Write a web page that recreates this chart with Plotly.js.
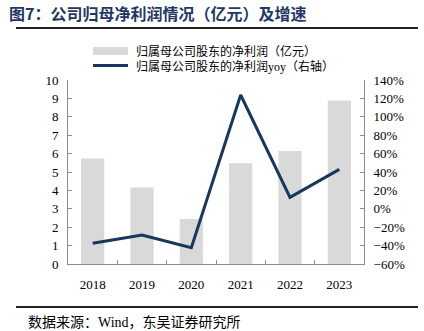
<!DOCTYPE html>
<html><head><meta charset="utf-8">
<script src="https://cdn.plot.ly/plotly-3.0.1.min.js"></script>
<style>html,body{margin:0;padding:0;background:#fff}#c{width:424px;height:331px}</style>
</head><body><div id="c"></div>
<script>
const years = ['2018','2019','2020','2021','2022','2023'];
const netProfit = [5.73, 4.16, 2.44, 5.47, 6.14, 8.89];
const yoyPct = [-37.5, -28.5, -42.3, 123.7, 12.5, 42.9];
const barName = '归属母公司股东的净利润（亿元）';
const lineName = '归属母公司股东的净利润yoy（右轴）';
const titleText = '图7：公司归母净利润情况（亿元）及增速';
const sourceText = '数据来源：Wind，东吴证券研究所';

const serif = '"Liberation Serif", "Times New Roman", "Noto Sans CJK SC", serif';
const axisCol = '#8c8c8c';
const barCol = '#D9D9D9';
const lineCol = '#17375E';

// pixel -> paper helpers (plot area: x 68..364, y 80..264)
const px = v => (v - 68) / 296;
const py = v => (264 - v) / 184;

const traces = [
  {type:'bar', x:years, y:netProfit, name:barName, marker:{color:barCol}, width:0.47, yaxis:'y', showlegend:false},
  {type:'scatter', mode:'lines', x:years, y:yoyPct, name:lineName, line:{color:lineCol, width:3}, yaxis:'y2', showlegend:false}
];

const layout = {
  width:424, height:331,
  margin:{l:68, r:60, t:80, b:67},
  paper_bgcolor:'#fff', plot_bgcolor:'#fff',
  showlegend:false,
  font:{family:serif, size:13, color:'#000'},
  title:{text:'<b>'+titleText+'</b>', xref:'container', yref:'container', x:9/424, xanchor:'left', y:1-14/331, yanchor:'middle',
    font:{family:'"Noto Sans CJK SC", sans-serif', size:16, color:'#1F3864'}},
  xaxis:{type:'category', range:[-0.5,5.5], showline:true, linecolor:axisCol, linewidth:1,
    ticks:'inside', ticklen:4, tickcolor:axisCol, tickson:'boundaries', showgrid:false, zeroline:false,
    tickfont:{family:serif, size:13}, ticklabelstandoff:8},
  yaxis:{range:[0,10], dtick:1, showline:true, linecolor:axisCol, ticks:'inside', ticklen:4, tickcolor:axisCol,
    showgrid:false, zeroline:false, tickfont:{family:serif, size:13}, ticklabelstandoff:6},
  yaxis2:{range:[-60,140], dtick:20, ticksuffix:'%', overlaying:'y', side:'right', showline:true, linecolor:axisCol,
    ticks:'inside', ticklen:4, tickcolor:axisCol, showgrid:false, zeroline:false, tickfont:{family:serif, size:13}, ticklabelstandoff:6},
  shapes:[
    {type:'line', xref:'paper', yref:'paper', x0:px(16), x1:px(418), y0:py(28), y1:py(28), line:{color:'#222', width:2}},
    {type:'line', xref:'paper', yref:'paper', x0:px(16), x1:px(418), y0:py(307), y1:py(307), line:{color:'#222', width:2}},
    // legend swatches
    {type:'rect', xref:'paper', yref:'paper', x0:px(93), x1:px(128), y0:py(55), y1:py(47), fillcolor:barCol, line:{width:0}},
    {type:'line', xref:'paper', yref:'paper', x0:px(93), x1:px(128), y0:py(65.5), y1:py(65.5), line:{color:lineCol, width:3}}
  ],
  annotations:[
    {text:barName, xref:'paper', yref:'paper', x:px(134), xanchor:'left', y:py(51), yanchor:'middle', showarrow:false,
     font:{family:serif, size:12, color:'#000'}},
    {text:lineName, xref:'paper', yref:'paper', x:px(134), xanchor:'left', y:py(66), yanchor:'middle', showarrow:false,
     font:{family:serif, size:12, color:'#000'}},
    {text:sourceText, xref:'paper', yref:'paper', x:px(26), xanchor:'left', y:py(322), yanchor:'middle', showarrow:false,
     font:{family:serif, size:14, color:'#000'}}
  ]
};
Plotly.newPlot('c', traces, layout, {displayModeBar:false, staticPlot:true});
</script></body></html>
